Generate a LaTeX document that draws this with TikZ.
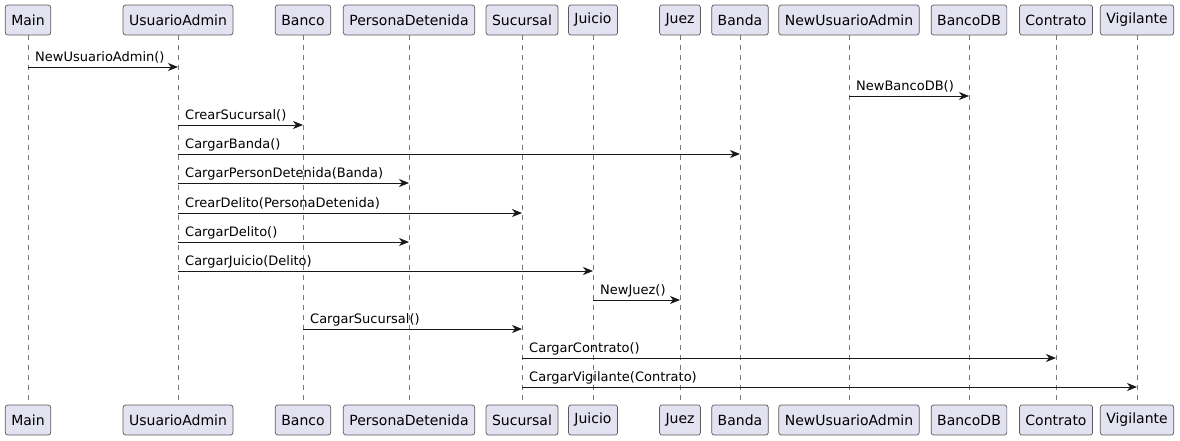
\documentclass[tikz,border=0pt]{standalone}
\usepackage{fontspec}
\setmainfont{DejaVu Sans}
\usetikzlibrary{arrows.meta}

\definecolor{boxfill}{RGB}{226,226,240}
\definecolor{boxline}{RGB}{90,90,90}
\definecolor{lifeline}{RGB}{120,120,120}
\definecolor{msgline}{RGB}{24,24,24}

\tikzset{
  part/.style={draw=boxline, fill=boxfill, line width=0.7pt, rounded corners=2.5pt,
    minimum height=30pt, inner xsep=6pt, font=\fontsize{14}{16}\selectfont},
  life/.style={draw=lifeline, line width=0.7pt, dash pattern=on 5pt off 5pt},
  msg/.style={draw=msgline, line width=0.9pt, -{Stealth[length=10pt,width=8pt,inset=3pt]}},
  lbl/.style={anchor=base west, inner sep=0pt, font=\fontsize{13}{15}\selectfont},
}

\begin{document}
\begin{tikzpicture}[x=1pt, y=-1pt]
\useasboundingbox (0,0) rectangle (1180,440);

% participants, top and bottom, with their lifelines
\foreach \name/\x/\txt in {main/28/Main, ua/178/UsuarioAdmin, banco/303/Banco,
    pd/409/PersonaDetenida, suc/522/Sucursal, juicio/593/Juicio, juez/680/Juez,
    banda/740/Banda, nua/849/NewUsuarioAdmin, bdb/969/BancoDB,
    contrato/1056/Contrato, vig/1137/Vigilante} {
  \node[part] (\name) at (\x,20) {\txt};
  \node[part] (\name-b) at (\x,420) {\txt};
  \draw[life] (\name) -- (\name-b);
}

% messages
\foreach \i/\y/\a/\b/\txt in {1/67/main/ua/NewUsuarioAdmin(),
    2/96/nua/bdb/NewBancoDB(),
    3/125/ua/banco/CrearSucursal(),
    4/154/ua/banda/CargarBanda(),
    5/183/ua/pd/CargarPersonDetenida(Banda),
    6/213/ua/suc/CrearDelito(PersonaDetenida),
    7/242/ua/pd/CargarDelito(),
    8/271/ua/juicio/CargarJuicio(Delito),
    9/300/juicio/juez/NewJuez(),
    10/329/banco/suc/CargarSucursal(),
    11/358/suc/contrato/CargarContrato(),
    12/387/suc/vig/CargarVigilante(Contrato)} {
  \coordinate (row-\i) at (0,\y);
  \coordinate (s-\i) at (\a |- row-\i);
  \coordinate (e-\i) at (\b |- row-\i);
  \draw[msg] (s-\i) -- (e-\i);
  \node[lbl] (m-\i) at ([xshift=7pt,yshift=6pt]s-\i) {\txt};
}
\end{tikzpicture}
\end{document}
